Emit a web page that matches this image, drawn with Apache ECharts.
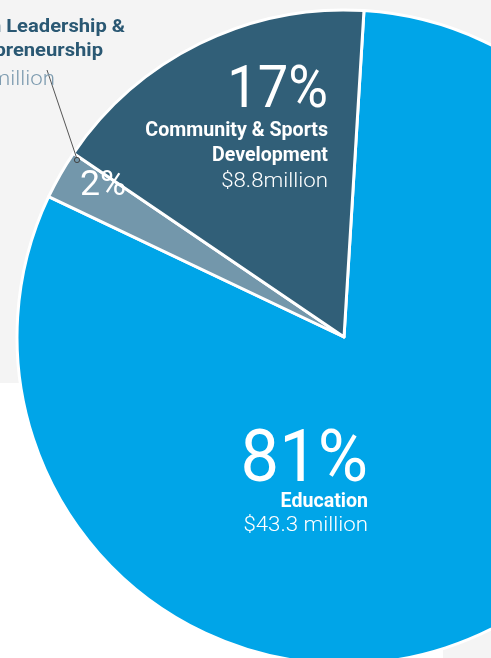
<!DOCTYPE html>
<html>
<head>
<meta charset="utf-8">
<script src="https://cdn.jsdelivr.net/npm/echarts@6/dist/echarts.min.js"></script>
<style>
  html, body { margin: 0; padding: 0; background: #ffffff; }
  #chart { width: 491px; height: 658px; }
</style>
</head>
<body>
<div id="chart"></div>
<script>
// Funding split by program area (USD millions)
const categories = ['Education', 'Youth Leadership & Entrepreneurship', 'Community & Sports Development'];
const amounts = [43.3, 1.3, 8.8];
const shareLabels = ['81%', '2%', '17%'];
const amountLabels = ['$43.3 million', '$1.3 million', '$8.8million'];
const nameLines = [['Education'], ['Youth Leadership &', 'Entrepreneurship'], ['Community & Sports', 'Development']];
const sliceColors = ['#00a5e8', '#7397ab', '#315f78'];

const FONT = 'Roboto, "Liberation Sans", sans-serif';

const chart = echarts.init(document.getElementById('chart'), null, { renderer: 'canvas' });

// Text scaled horizontally around its anchor point
function txt(text, x, y, size, weight, color, align, squeeze) {
  return {
    type: 'text', z: 10, silent: true,
    x: x, y: y, scaleX: squeeze || 1, originX: 0, originY: 0,
    style: {
      text: text, x: 0, y: 0,
      font: weight + ' ' + size + 'px ' + FONT,
      fill: color, align: align || 'right', verticalAlign: 'middle'
    }
  };
}

const graphics = [
  // panel backgrounds
  { type: 'rect', z: -10, silent: true, shape: { x: 0, y: 0, width: 491, height: 383 }, style: { fill: '#f4f4f4' } },
  { type: 'rect', z: -10, silent: true, shape: { x: 443, y: 420, width: 48, height: 238 }, style: { fill: '#f4f4f4' } },
  // leader line for the small slice
  { type: 'line', z: 10, silent: true, shape: { x1: 47, y1: 70, x2: 77, y2: 159 }, style: { stroke: '#555555', lineWidth: 1 } },
  { type: 'circle', z: 11, silent: true, shape: { cx: 77, cy: 160, r: 2.6 }, style: { fill: '#7397ab', stroke: '#444444', lineWidth: 1 } },

  // Community & Sports Development
  txt(shareLabels[2], 328, 92, 59, 'normal', '#ffffff', 'right', 0.92),
  txt(nameLines[2][0], 328, 131, 20, 'bold', '#ffffff', 'right', 0.98),
  txt(nameLines[2][1], 328, 156, 20, 'bold', '#ffffff', 'right', 0.98),
  txt(amountLabels[2], 328, 182, 21, 300, '#ffffff', 'right', 1.06),

  // Youth Leadership & Entrepreneurship
  txt(shareLabels[1], 80, 186, 35, 'normal', '#ffffff', 'left', 1.02),
  txt(nameLines[1][0], 125, 27, 18, 'bold', '#2a5873', 'right', 1.12),
  txt(nameLines[1][1], 103, 51, 18, 'bold', '#2a5873', 'right', 1.12),
  txt(amountLabels[1], 55, 80, 21, 300, '#7e9cb0', 'right', 1.06),

  // Education
  txt(shareLabels[0], 368, 463, 73, 'normal', '#ffffff', 'right', 0.94),
  txt(nameLines[0][0], 368, 502, 20, 'bold', '#ffffff', 'right', 0.98),
  txt(amountLabels[0], 368, 526, 21, 300, '#ffffff', 'right', 1.06)
];

chart.setOption({
  animation: false,
  graphic: graphics,
  series: [{
    type: 'pie',
    silent: true,
    center: [344, 337],
    radius: 327,
    startAngle: 86.5,
    clockwise: true,
    label: { show: false },
    labelLine: { show: false },
    itemStyle: { borderColor: '#ffffff', borderWidth: 3 },
    data: categories.map((c, i) => ({ name: c, value: amounts[i], itemStyle: { color: sliceColors[i] } }))
  }]
});
</script>
</body>
</html>
